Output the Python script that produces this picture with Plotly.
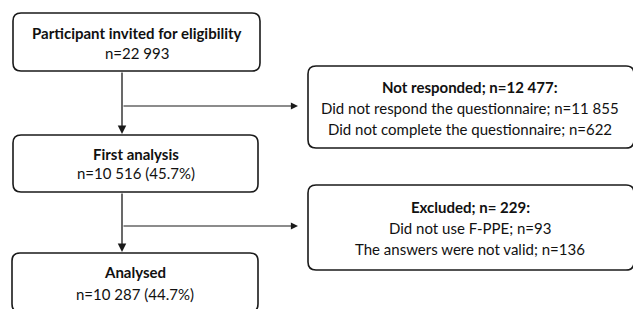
import plotly.graph_objects as go

# ---- data (texts of the flow diagram) ----
main_titles = ["Participant invited for eligibility", "First analysis", "Analysed"]
main_counts = ["n=22 993", "n=10 516 (45.7%)", "n=10 287 (44.7%)"]
side_titles = ["Not responded; n=12 477:", "Excluded; n= 229:"]
side_lines = [
    ["Did not respond the questionnaire; n=11 855", "Did not complete the questionnaire; n=622"],
    ["Did not use F-PPE; n=93", "The answers were not valid; n=136"],
]

# ---- layout (pixel coordinates) ----
W, H = 633, 309
main_boxes = [(13, 13, 260, 71), (13, 135, 258, 192), (12, 253, 258, 312)]
main_text_y = [(33, 53), (154, 173), (272, 294)]
side_boxes = [(308, 66, 634, 148), (308, 185, 634, 270)]
side_text_y = [(87, 108, 129), (207, 228, 249)]
trunk_x = 122
branch_y = [106, 226]
branch_end_x = 298

FONT = "Lato, Carlito, Calibri, sans-serif"
LINE = "#1a1a1a"
FS = 15


def rrect(x0, y0, x1, y1, r=8):
    return (f"M{x0+r},{y0} L{x1-r},{y0} Q{x1},{y0} {x1},{y0+r} "
            f"L{x1},{y1-r} Q{x1},{y1} {x1-r},{y1} L{x0+r},{y1} "
            f"Q{x0},{y1} {x0},{y1-r} L{x0},{y0+r} Q{x0},{y0} {x0+r},{y0} Z")


fig = go.Figure()
shapes = []
annotations = []

for b in main_boxes + side_boxes:
    shapes.append(dict(type="path", path=rrect(*b), xref="x", yref="y",
                       line=dict(color=LINE, width=1.6), fillcolor="white"))

for i, (t, c) in enumerate(zip(main_titles, main_counts)):
    cx = (main_boxes[i][0] + main_boxes[i][2]) / 2
    ty, cy = main_text_y[i]
    annotations.append(dict(x=cx, y=ty, text=f"<b>{t}</b>", showarrow=False,
                            font=dict(size=FS, color="#111", family=FONT)))
    annotations.append(dict(x=cx, y=cy, text=c, showarrow=False,
                            font=dict(size=FS, color="#111", family=FONT)))

for i, t in enumerate(side_titles):
    cx = (side_boxes[i][0] + 632) / 2
    ys = side_text_y[i]
    annotations.append(dict(x=cx, y=ys[0], text=f"<b>{t}</b>", showarrow=False,
                            font=dict(size=FS, color="#111", family=FONT)))
    for j, line in enumerate(side_lines[i]):
        annotations.append(dict(x=cx, y=ys[j + 1], text=line, showarrow=False,
                                font=dict(size=FS, color="#111", family=FONT)))

# vertical arrows between main boxes and side branches
for k in range(2):
    y_start = main_boxes[k][3]
    y_end = main_boxes[k + 1][1] - 1
    annotations.append(dict(x=trunk_x, y=y_end, ax=trunk_x, ay=y_start,
                            xref="x", yref="y", axref="x", ayref="y",
                            showarrow=True, arrowhead=2, arrowsize=1.3,
                            arrowwidth=1.3, arrowcolor=LINE, text=""))
    annotations.append(dict(x=branch_end_x, y=branch_y[k], ax=trunk_x, ay=branch_y[k],
                            xref="x", yref="y", axref="x", ayref="y",
                            showarrow=True, arrowhead=2, arrowsize=1.3,
                            arrowwidth=1.1, arrowcolor=LINE, text=""))

fig.update_layout(
    width=W, height=H,
    margin=dict(l=0, r=0, t=0, b=0),
    paper_bgcolor="white", plot_bgcolor="white",
    shapes=shapes, annotations=annotations,
    xaxis=dict(range=[0, W], visible=False, fixedrange=True),
    yaxis=dict(range=[H, 0], visible=False, fixedrange=True),
    showlegend=False,
)

fig.write_html("out.html", config={"displayModeBar": False},
               post_script="document.body.style.margin='0';document.body.style.overflow='hidden';")
